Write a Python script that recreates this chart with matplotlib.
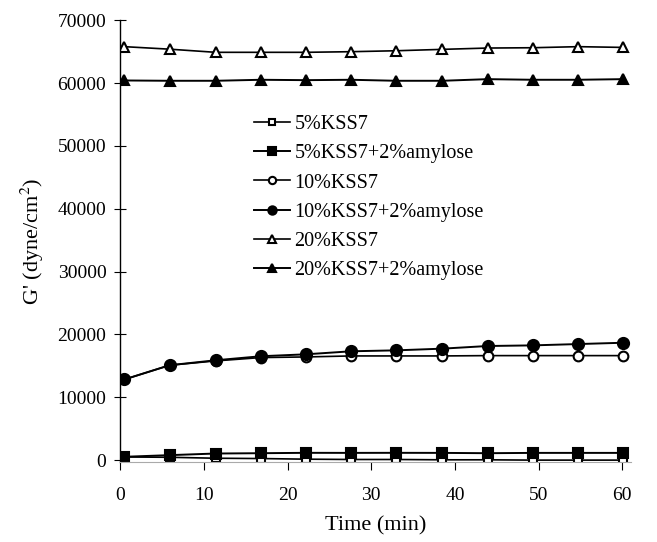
import matplotlib
matplotlib.use("Agg")
import matplotlib.pyplot as plt

plt.rcParams['font.family'] = ['Liberation Serif', 'DejaVu Serif']
plt.rcParams['mathtext.fontset'] = 'stix'

time_min = [0.5, 5.9, 11.4, 16.8, 22.2, 27.6, 33.0, 38.5, 43.9, 49.3, 54.7, 60.1]

kss7_5 = [500, 450, 300, 250, 150, 100, 100, 50, 50, 0, 0, 0]
kss7_5_amy = [530, 790, 1050, 1100, 1160, 1150, 1160, 1150, 1100, 1150, 1150, 1150]
kss7_10 = [12840, 15100, 15790, 16320, 16420, 16580, 16580, 16580, 16630, 16630, 16630, 16630]
kss7_10_amy = [12840, 15100, 15890, 16530, 16840, 17320, 17470, 17740, 18160, 18260, 18470, 18680]
kss7_20 = [65800, 65400, 64900, 64900, 64900, 65000, 65150, 65370, 65580, 65630, 65800, 65680]
kss7_20_amy = [60420, 60370, 60370, 60530, 60470, 60530, 60370, 60370, 60630, 60530, 60530, 60630]

labels = ["5%KSS7", "5%KSS7+2%amylose", "10%KSS7", "10%KSS7+2%amylose",
          "20%KSS7", "20%KSS7+2%amylose"]

fig = plt.figure(figsize=(6.57, 5.42), dpi=100)
ax = fig.add_axes([0.183, 0.1476, 0.777, 0.815])

# (series, marker, filled, size)
styles = [
    (kss7_5, "s", False, 6),
    (kss7_5_amy, "s", True, 7),
    (kss7_10, "o", False, 7),
    (kss7_10_amy, "o", True, 8),
    (kss7_20, "^", False, 7),
    (kss7_20_amy, "^", True, 7),
]
for (vals, mk, filled, ms), lab in zip(styles, labels):
    ax.plot(time_min, vals, color="black", linewidth=1.2 if not filled else 1.4,
            marker=mk, markersize=ms, markeredgewidth=1.5,
            markerfacecolor="black" if filled else "white",
            markeredgecolor="black", label=lab)

ax.set_xlim(0, 61)
ax.set_ylim(-300, 70000)
ax.set_xticks(range(0, 61, 10))
ax.set_yticks(range(0, 70001, 10000))
ax.spines['top'].set_visible(False)
ax.spines['right'].set_visible(False)
ax.spines['bottom'].set_color("#aaaaaa")
ax.spines['left'].set_linewidth(1.0)
ax.tick_params(axis='y', direction='inout', length=8, labelsize=14, pad=6)
ax.tick_params(axis='x', direction='out', length=6, labelsize=14, pad=12)

ax.set_xlabel("Time (min)", fontsize=16, labelpad=9)
ax.set_ylabel("G' (dyne/cm$^2$)", fontsize=16, labelpad=8)

ax.legend(loc="upper left", bbox_to_anchor=(244 / 657, 1 - 105 / 542),
          bbox_transform=fig.transFigure, frameon=False, fontsize=14.5,
          handlelength=1.8, handletextpad=0.2, labelspacing=0.5,
          borderpad=0, markerscale=0.75)

fig.savefig("out.png", dpi=100)
